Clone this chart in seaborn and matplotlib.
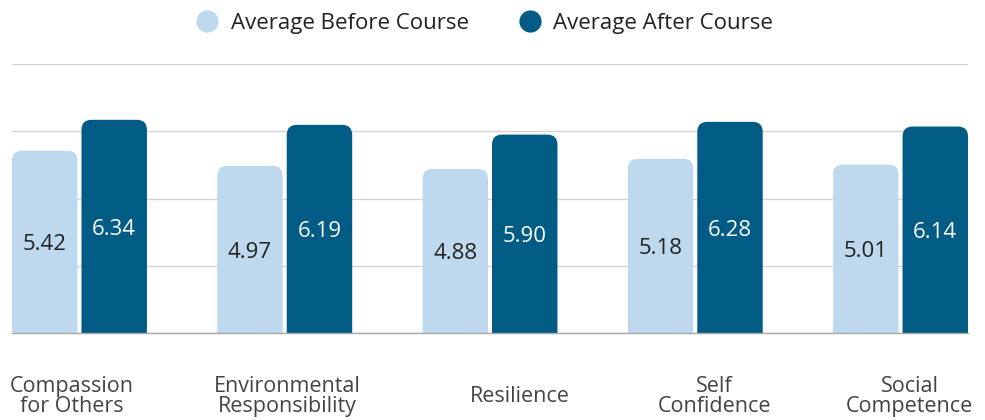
import pandas as pd
import numpy as np
import matplotlib
matplotlib.use("Agg")
import matplotlib.pyplot as plt
from matplotlib.patches import FancyBboxPatch
from matplotlib.lines import Line2D
from matplotlib.transforms import ScaledTranslation
import seaborn as sns

skills = ["Compassion\nfor Others", "Environmental\nResponsibility", "Resilience",
          "Self\nConfidence", "Social\nCompetence"]
before = [5.42, 4.97, 4.88, 5.18, 5.01]
after = [6.34, 6.19, 5.90, 6.28, 6.14]
periods = ["Average Before Course", "Average After Course"]

LIGHT = "#BED9ED"
DARK = "#005C84"

df = pd.DataFrame({
    "skill": skills * 2,
    "score": before + after,
    "period": [periods[0]] * len(skills) + [periods[1]] * len(skills),
})

sns.set_style("white")
plt.rcParams["font.family"] = ["Open Sans", "DejaVu Sans"]

fig = plt.figure(figsize=(9.85, 4.2), dpi=100)
ax = fig.add_axes([12 / 985, (420 - 333) / 420, 956 / 985, (333 - 64) / 420])

sns.barplot(data=df, x="skill", y="score", hue="period", palette=[LIGHT, DARK],
            width=0.677, gap=0.058, saturation=1, legend=False, ax=ax)

bars = list(ax.patches)
xmin = min(b.get_x() for b in bars)
xmax = max(b.get_x() + b.get_width() for b in bars)
ax.set_xlim(xmin, xmax)
ax.set_ylim(0, 8)

# rounded top corners; bottom corners fall below y=0 and get clipped
rx = 0.0487
ry = 10 / 33.6
aspect = ry / rx
lift = ScaledTranslation(0, 3 / 100, fig.dpi_scale_trans)
for b in bars:
    x, w, h = b.get_x(), b.get_width(), b.get_height()
    col = b.get_facecolor()
    b.set_visible(False)
    ax.add_patch(FancyBboxPatch((x, -ry), w, h + ry, boxstyle=f"round,pad=0,rounding_size={rx}",
                                mutation_aspect=aspect, facecolor=col, edgecolor="none", zorder=2))
    txt_col = "white" if h in after else "#222222"
    ax.text(x + w / 2, h / 2, f"{h:.2f}", ha="center", va="center",
            fontsize=16, color=txt_col, zorder=3, transform=ax.transData - lift)

ax.set_yticks([0, 2, 4, 6, 8])
ax.set_yticklabels([])
ax.grid(axis="y", color="#D4D4D4", linewidth=1)
ax.set_axisbelow(True)
for s in ["top", "right", "left"]:
    ax.spines[s].set_visible(False)
ax.spines["bottom"].set_color("#A8A8A8")
ax.spines["bottom"].set_linewidth(1)
ax.spines["bottom"].set_zorder(4)
ax.set_xlabel("")
ax.set_ylabel("")
ax.tick_params(axis="y", length=0)
ax.tick_params(axis="x", length=0, pad=46, labelsize=15.5, labelcolor="#444444")

# horizontal nudges of the category labels, in pixels
offsets = [-8, 3, 30, 19, 9]
for lab, dx in zip(ax.get_xticklabels(), offsets):
    lab.set_va("center")
    lab.set_linespacing(0.95)
    lab.set_transform(lab.get_transform() + ScaledTranslation(dx / 100, 0, fig.dpi_scale_trans))

handles = [Line2D([], [], marker="o", linestyle="none", markersize=16, markerfacecolor=c,
                  markeredgecolor="none") for c in [LIGHT, DARK]]
fig.legend(handles, periods, loc="center", bbox_to_anchor=(479 / 985, 1 - 23 / 420), ncol=2,
           frameon=False, fontsize=16, handletextpad=0.05, columnspacing=1.75,
           labelcolor="#222222")

fig.savefig("out.png", dpi=100)
